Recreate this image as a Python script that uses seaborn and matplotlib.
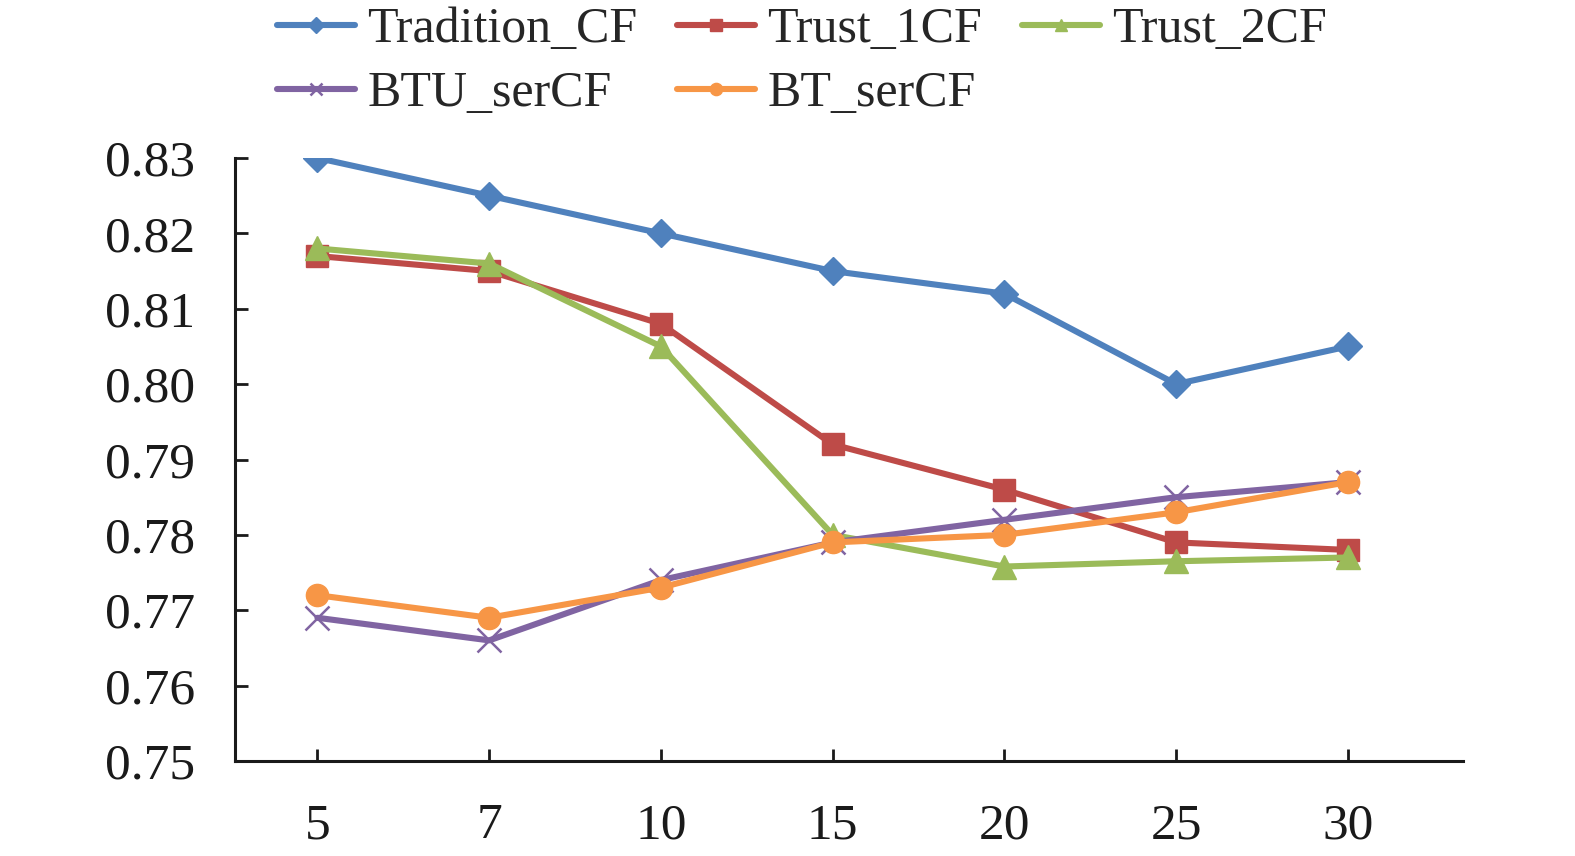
import numpy as np
import pandas as pd
import matplotlib
matplotlib.use("Agg")
import matplotlib.pyplot as plt
import seaborn as sns

# neighbour counts on the x axis (categorical, equally spaced)
k_values = [5, 7, 10, 15, 20, 25, 30]

methods = ["Tradition_CF", "Trust_1CF", "Trust_2CF", "BTU_serCF", "BT_serCF"]
tradition_cf = [0.830, 0.825, 0.820, 0.815, 0.812, 0.800, 0.805]
trust_1cf = [0.817, 0.815, 0.808, 0.792, 0.786, 0.779, 0.778]
trust_2cf = [0.818, 0.816, 0.805, 0.780, 0.7758, 0.7765, 0.777]
btu_sercf = [0.769, 0.766, 0.774, 0.779, 0.782, 0.785, 0.787]
bt_sercf = [0.772, 0.769, 0.773, 0.779, 0.780, 0.783, 0.787]

y_ticks = [0.75, 0.76, 0.77, 0.78, 0.79, 0.80, 0.81, 0.82, 0.83]

series = [tradition_cf, trust_1cf, trust_2cf, btu_sercf, bt_sercf]
rows = []
for name, vals in zip(methods, series):
    for i, (k, v) in enumerate(zip(k_values, vals)):
        rows.append({"pos": i, "k": k, "value": v, "method": name})
df = pd.DataFrame(rows)

colors = ["#4F81BD", "#BE4B48", "#9BBB59", "#8064A2", "#F79646"]
# seaborn won't mix filled and line markers, so BTU gets "x" afterwards
marker_map = {"Tradition_CF": "D", "Trust_1CF": "s", "Trust_2CF": "^",
              "BTU_serCF": "X", "BT_serCF": "o"}
size_map = {"Tradition_CF": 14, "Trust_1CF": 16, "Trust_2CF": 17,
            "BTU_serCF": 17, "BT_serCF": 16}

sns.set_theme(style="white")
plt.rcParams["font.family"] = ["Liberation Serif", "DejaVu Serif"]
plt.rcParams["xtick.direction"] = "in"
plt.rcParams["ytick.direction"] = "in"

fig = plt.figure(figsize=(15.75, 8.56), dpi=100)
ax = fig.add_axes([0.1492, 0.1110, 0.9289 - 0.1492, 0.8154 - 0.1110])

sns.lineplot(data=df, x="pos", y="value", hue="method", hue_order=methods,
             style="method", style_order=methods, markers=marker_map, dashes=False,
             palette=colors, linewidth=4.4, legend=False, ax=ax)

for line, name, c in zip(ax.lines, methods, colors):
    if name == "BTU_serCF":
        line.set_marker("x")
    line.set_markersize(size_map[name])
    line.set_markeredgecolor(c)
    line.set_markerfacecolor(c)
    line.set_markeredgewidth(1.8 if name == "BTU_serCF" else 1.0)

ax.set_xlim(-0.48, 6.67)
ax.set_ylim(0.75, 0.83)
ax.set_xticks(range(len(k_values)))
ax.set_xticklabels([str(k) for k in k_values])
ax.set_yticks(y_ticks)
ax.set_yticklabels([f"{t:.2f}" for t in y_ticks])
ax.set_xlabel("")
ax.set_ylabel("")

for side in ["top", "right"]:
    ax.spines[side].set_visible(False)
for side in ["left", "bottom"]:
    ax.spines[side].set_color("#1a1a1a")
    ax.spines[side].set_linewidth(2.2)
ax.tick_params(axis="both", bottom=True, left=True, direction="in", length=9,
               width=2.0, colors="#1a1a1a", labelsize=37, labelcolor="#1a1a1a")
ax.tick_params(axis="y", direction="in", pad=29)
ax.tick_params(axis="x", direction="in", pad=30)

# legend in row-major order over three columns
handles = list(ax.lines[:5])
order = [0, 3, 1, 4, 2]
fig.legend([handles[i] for i in order], [methods[i] for i in order],
           loc="upper left", bbox_to_anchor=(0.176, 0.992), ncol=3, frameon=False,
           fontsize=36, handlelength=1.55, handletextpad=0.25, columnspacing=0.8,
           labelspacing=0.35, borderpad=0, borderaxespad=0, markerscale=0.55)

fig.savefig("out.png", dpi=100)
